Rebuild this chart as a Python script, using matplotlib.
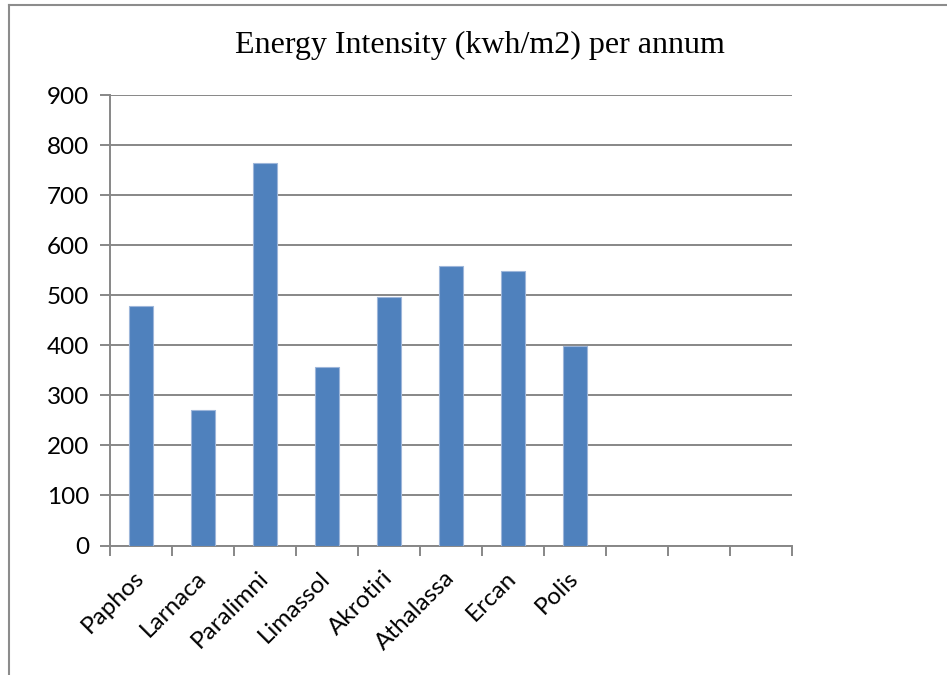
import matplotlib
matplotlib.use("Agg")
import matplotlib.pyplot as plt
from matplotlib.lines import Line2D
import numpy as np

# Chart data
sites = ["Paphos", "Larnaca", "Paralimni", "Limassol", "Akrotiri",
         "Athalassa", "Ercan", "Polis"]
intensity = [478, 271, 764, 357, 497, 559, 549, 399]
n_slots = 11  # category slots on the axis (last three empty)
y_ticks = [0, 100, 200, 300, 400, 500, 600, 700, 800, 900]

W, H = 947, 675
fig = plt.figure(figsize=(W / 100, H / 100), dpi=100)
fig.patch.set_facecolor("white")

ax = fig.add_axes([110 / W, 1 - 545.5 / H, (792 - 110) / W, (545.5 - 95) / H])

grid_c = "#878787"
label_font = "Lato"
x = np.arange(len(sites))
ax.bar(x, intensity, width=0.4, color="#4F81BD", edgecolor="#9DB6DA",
       linewidth=0.8, zorder=3)

ax.set_xlim(-0.5, n_slots - 0.5)
ax.set_ylim(0, 900)
ax.set_yticks(y_ticks)
ax.yaxis.grid(True, color=grid_c, linewidth=1.4, zorder=0)

# category boundaries carry the tick marks, centers carry the labels
ax.set_xticks(x)
ax.set_xticklabels(sites, rotation=45, ha="right", va="center",
                   rotation_mode="anchor", fontsize=17.5, family=label_font)
ax.tick_params(axis="x", which="major", length=0, pad=21)
ax.set_xticks(np.arange(-0.5, n_slots, 1), minor=True)
ax.tick_params(axis="x", which="minor", length=7, width=1.4, color=grid_c)
ax.tick_params(axis="y", length=7, width=1.4, color=grid_c, labelsize=17.5, pad=8)
for lbl in ax.get_yticklabels():
    lbl.set_family(label_font)

for side in ("top", "right"):
    ax.spines[side].set_visible(False)
for side in ("left", "bottom"):
    ax.spines[side].set_color(grid_c)
    ax.spines[side].set_linewidth(1.4)

fig.text(480 / W, 1 - 45 / H, "Energy Intensity (kwh/m2) per annum",
         ha="center", va="center", fontsize=23, family="Liberation Serif")

# outer chart frame
frame_c = "#8C8C8C"
fig.add_artist(Line2D([8.5 / W, 8.5 / W], [0, 1 - 4.5 / H], transform=fig.transFigure,
                      color=frame_c, linewidth=1.5))
fig.add_artist(Line2D([8.5 / W, 1], [1 - 4.5 / H, 1 - 4.5 / H], transform=fig.transFigure,
                      color=frame_c, linewidth=1.5))

fig.savefig("out.png", dpi=100, facecolor="white")
